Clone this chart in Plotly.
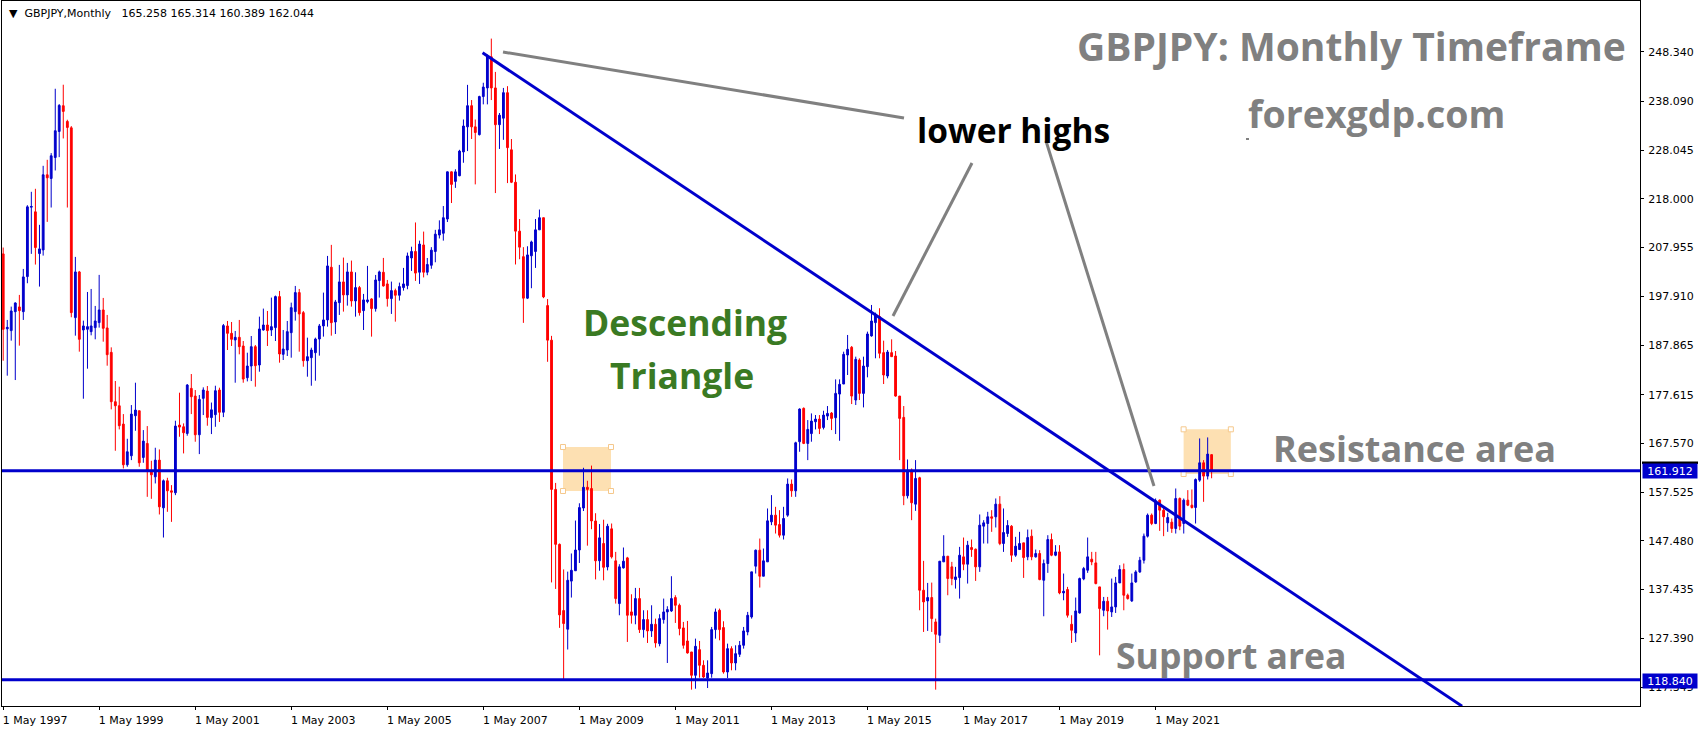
import pandas as pd
import plotly.graph_objects as go

# ---------------- data (GBPJPY monthly candles) ----------------
months = pd.date_range("1997-05-01", periods=303, freq="MS")

opens = [206.65,191.2,190.83,194.74,195.71,194.74,201.97,216.28,215.32,206.72,207.47,222.96,222.2,226.53,231.9,237.2,233.96,232.65,193.51,202.93,
190.96,191.1,190.62,191.45,192.48,195.09,191.38,186.35,176.17,175.34,171.56,163.17,165.03,173.28,174.31,164.68,167.57,162.07,160.69,164.13,
154.29,159.87,157.8,157.39,171.36,171.01,169.63,178.92,177.34,169.36,176.86,178.37,172.9,173.5,178.58,174.0,191.79,190.27,188.9,189.45,
187.66,181.12,183.53,187.52,183.74,190.96,191.99,190.96,191.45,197.84,185.94,186.83,190.41,194.75,198.67,194.54,184.63,185.25,186.28,189.1,
191.79,193.03,203.9,192.61,196.6,200.87,198.19,202.93,196.95,199.7,194.95,196.81,197.36,195.37,201.15,202.86,200.46,197.43,199.08,198.12,
199.7,200.11,205.81,207.15,202.87,208.49,202.87,204.3,207.15,210.54,210.9,213.84,223.57,221.6,222.76,227.67,232.84,237.21,232.84,231.24,
239.09,240.87,247.29,240.87,233.29,234.63,239.89,228.11,221.42,211.34,206.08,197.52,206.26,207.15,211.61,214.11,195.99,188.86,158.09,146.76,
133.11,129.27,139.18,141.32,145.6,154.25,158.53,158.27,151.58,143.37,146.94,142.1,149.96,143.36,134.55,141.91,143.97,132.83,132.14,135.58,
129.18,131.25,128.91,130.28,126.29,131.25,132.83,133.03,135.79,134.2,129.53,126.84,124.57,119.76,125.05,121.82,119.21,120.1,129.18,133.17,
129.6,120.44,125.26,122.3,124.09,125.95,128.7,131.8,142.26,145.56,140.19,143.15,151.4,152.78,150.85,148.65,152.78,159.18,157.8,167.92,
174.8,167.57,169.6,172.04,172.59,170.87,173.21,173.83,172.87,177.75,179.82,185.8,187.39,176.52,184.77,177.89,183.4,189.73,192.48,193.72,
186.29,181.47,186.29,185.6,177.34,172.94,156.77,162.07,155.05,160.49,137.3,135.1,135.79,130.77,128.01,143.15,144.32,142.12,139.5,139.91,
144.18,142.67,146.11,145.76,142.12,150.51,151.06,152.44,152.44,155.05,146.93,148.99,150.51,144.52,145.69,147.07,144.18,148.45,144.18,144.87,
139.36,142.81,147.76,144.52,145.21,136.75,137.44,130.28,128.49,132.62,139.64,141.43,143.7,142.94,137.99,133.17,135.03,132.83,133.86,138.81,
141.57,136.27,135.1,139.02,141.08,143.49,148.45,152.78,151.06,155.88,153.81,151.2,151.33,150.03,156.22,151.06,155.88,154.84,154.36,160.0,
163.58,160.83,165.258]

highs = [207.96,193.03,195.78,196.67,198.19,203.55,216.69,219.45,220.07,212.64,224.81,226.05,227.43,240.7,237.54,241.53,234.31,233.0,206.03,203.14,
192.89,198.8,199.42,195.92,202.32,197.57,194.06,187.38,180.44,179.27,173.62,168.53,175.48,180.09,174.31,170.32,171.15,164.0,166.68,166.33,
160.14,160.49,158.97,172.25,178.03,171.7,179.82,181.88,178.58,177.55,179.13,179.41,176.0,179.47,179.06,192.2,192.82,192.61,190.76,193.03,
188.69,186.28,189.72,187.87,193.71,195.37,194.88,197.64,198.05,199.01,190.96,192.82,196.6,200.04,199.42,194.88,189.38,187.31,189.38,192.2,
198.67,206.23,208.51,197.16,204.38,205.89,204.79,205.27,202.86,200.04,198.4,204.17,197.5,202.31,203.21,205.82,201.28,200.94,199.49,200.73,
203.76,206.92,208.13,213.13,209.38,211.25,205.81,208.04,211.61,213.57,216.52,223.65,223.65,224.1,228.11,234.36,241.5,238.37,234.36,239.26,
241.94,247.74,251.04,244.17,235.7,240.87,241.23,230.34,223.03,213.84,208.04,208.22,209.38,213.84,215.8,214.11,197.34,189.75,159.43,146.94,
141.59,141.14,144.88,151.67,155.23,162.55,159.87,163.0,153.18,150.95,151.84,151.0,151.06,145.21,142.67,146.11,144.18,136.47,137.78,137.78,
133.17,133.17,134.2,131.45,132.35,135.58,134.0,140.19,136.27,134.55,130.77,130.97,124.57,127.32,126.84,122.85,122.85,129.73,133.52,133.52,
130.9,126.29,125.74,125.95,126.84,129.73,132.83,141.09,145.69,147.96,145.9,154.16,156.91,154.5,153.81,154.5,160.35,160.14,167.92,174.8,
175.0,172.39,173.76,173.42,173.42,174.31,175.28,174.04,180.78,180.78,186.49,189.93,187.66,185.46,185.12,185.46,190.62,196.12,194.54,195.44,
188.76,186.84,189.04,186.63,177.34,175.28,164.27,162.41,164.13,160.69,143.36,138.81,138.88,131.45,143.29,148.65,144.32,143.15,142.12,146.24,
148.17,147.48,147.76,145.9,152.92,151.75,153.47,153.81,156.22,156.7,154.16,151.75,150.72,148.31,149.34,147.07,149.82,149.82,145.69,145.56,
143.63,148.65,148.99,146.59,146.59,140.74,137.99,132.14,135.79,139.91,142.11,148.17,145.21,145.21,137.99,135.92,135.92,139.71,140.05,142.46,
142.81,136.61,140.74,141.43,144.18,148.99,153.12,153.12,156.22,156.01,154.5,153.26,152.09,158.28,156.43,156.22,157.94,158.08,160.35,168.6,
164.13,168.81,165.314]

lows = [184.63,181.54,188.76,180.64,187.73,193.03,200.6,206.65,204.45,199.91,206.3,213.25,216.21,223.85,226.6,230.45,216.21,193.58,189.79,186.49,
176.79,182.98,189.86,189.04,191.45,188.55,183.6,174.59,166.06,170.46,162.41,162.76,164.13,170.18,162.76,163.58,156.56,156.15,159.32,152.92,
148.17,153.47,151.4,156.91,168.95,165.51,169.16,173.62,167.92,165.37,173.42,171.22,169.5,171.0,172.0,173.0,186.83,187.66,180.09,185.94,
180.09,180.36,180.43,179.27,182.36,190.83,187.66,189.72,188.69,184.22,184.77,185.6,185.25,192.89,186.49,183.39,181.33,179.47,180.5,185.67,
189.59,191.65,189.79,190.13,194.06,194.75,195.98,195.78,193.71,193.92,190.96,196.47,189.59,194.75,197.64,199.91,195.78,194.27,192.68,197.02,
199.08,199.36,203.14,201.08,200.46,201.8,202.25,203.58,204.92,209.83,209.38,213.22,217.14,220.26,222.67,225.44,227.85,230.34,220.98,231.06,
237.48,237.48,238.37,219.19,228.29,230.17,221.25,221.25,204.47,205.55,192.43,197.34,199.57,203.76,211.61,197.52,184.4,138.91,137.57,129.54,
118.84,125.08,135.79,141.32,142.92,153.63,146.49,149.88,139.53,141.32,139.35,141.4,143.84,134.55,132.14,141.77,126.64,130.42,130.28,128.49,
127.53,126.43,127.67,125.47,125.74,130.42,122.3,132.83,130.56,128.01,125.26,124.23,116.8,117.0,119.27,119.21,117.14,119.27,127.32,126.98,
120.1,119.21,120.79,120.79,123.54,125.26,128.01,131.45,140.74,137.85,140.19,143.15,150.72,148.99,148.17,147.76,152.44,156.56,156.56,165.85,
167.43,164.13,167.92,170.46,169.5,170.46,172.39,170.32,169.5,168.12,179.82,181.68,175.69,175.49,176.52,175.0,181.2,189.59,185.12,185.12,
179.82,180.99,185.46,177.2,164.13,154.84,156.22,151.75,153.67,133.17,128.7,128.91,128.7,116.8,126.43,143.15,136.27,138.33,137.64,135.58,
141.43,138.68,144.18,139.22,141.09,146.93,146.93,149.34,150.24,146.59,145.21,148.31,143.15,144.18,145.69,139.84,143.49,143.49,144.04,139.36,
131.93,140.88,144.32,144.32,136.47,135.23,131.66,126.43,126.64,132.48,139.36,140.88,142.46,138.53,123.88,131.93,129.18,131.79,132.62,138.81,
133.17,135.37,134.89,138.81,140.88,142.81,148.17,150.72,150.92,149.54,148.45,149.34,149.13,148.99,149.68,148.99,154.64,154.15,151.06,159.66,
155.53,160.14,160.389]

closes = [191.1,191.5,194.88,196.53,194.95,201.9,216.35,216.42,207.96,207.68,222.96,222.34,226.88,232.04,237.26,236.03,232.72,194.54,202.93,189.04,
191.79,191.65,191.79,192.82,195.09,191.31,185.87,176.17,175.34,171.22,163.17,165.85,173.62,174.45,163.58,168.05,162.07,161.1,164.13,154.5,
159.87,157.8,157.52,171.15,170.94,169.77,179.61,177.2,169.36,176.65,178.58,172.94,174.5,178.44,174.0,191.86,190.27,189.04,189.45,187.52,
180.85,183.53,187.52,183.6,191.17,191.99,190.83,191.65,197.84,186.01,187.04,190.62,195.57,198.67,194.27,184.63,185.46,186.83,189.1,191.79,
193.03,204.17,192.47,196.74,200.87,198.19,202.93,196.95,199.7,194.54,197.16,197.16,195.37,201.28,202.93,200.04,197.43,199.08,198.12,199.91,
200.46,206.23,207.15,202.69,208.67,202.87,204.47,207.42,210.72,211.61,214.11,223.57,220.98,223.57,227.85,233.02,237.21,232.84,231.68,239.09,
241.05,247.29,240.87,233.29,235.25,239.89,228.56,221.42,211.34,208.04,197.52,206.44,209.11,211.61,214.11,197.78,188.86,158.09,146.76,132.22,
130.43,139.35,141.41,145.6,154.34,158.53,158.09,151.58,143.37,148.1,142.03,150.5,144.18,135.58,142.12,143.29,132.14,132.14,135.58,129.18,
131.25,128.91,130.28,126.43,131.45,132.83,133.31,135.58,134.2,129.39,125.95,124.37,119.76,125.74,121.82,119.41,120.24,129.18,132.83,129.18,
120.44,125.26,122.3,124.23,125.95,128.91,132.14,141.09,145.56,140.19,143.36,151.61,152.78,150.72,148.65,152.09,159.18,157.8,167.71,174.66,
167.57,170.46,172.18,172.59,170.67,173.42,173.76,172.73,177.89,179.75,185.94,186.97,177.34,184.91,177.89,183.53,190.14,192.82,194.2,186.15,
181.68,186.42,185.46,177.34,172.73,156.77,162.07,155.33,160.35,137.3,134.89,135.79,131.45,128.22,143.29,144.32,139.71,139.71,140.05,144.52,
142.67,146.59,145.69,142.12,150.72,151.2,152.44,152.16,155.05,146.93,149.2,150.65,144.52,146.38,146.93,144.04,148.17,144.18,144.87,139.5,
142.81,147.76,144.52,145.21,136.75,137.09,132.14,129.04,133.03,139.71,141.77,144.18,143.15,138.67,133.52,135.03,133.03,133.86,138.81,141.57,
136.27,135.58,138.81,141.08,143.49,148.45,152.78,151.06,155.74,153.81,152.44,152.3,150.03,156.22,150.51,155.88,154.84,154.36,160.14,163.58,
160.83,165.37,162.044]

resistance_level = 161.912
support_level = 118.840

ytick_vals = [248.340, 238.090, 228.045, 218.000, 207.955, 197.910, 187.865,
              177.615, 167.570, 157.525, 147.480, 137.435, 127.390, 117.345]
ytick_text = ["%.3f" % v for v in ytick_vals]

xtick_dates = ["1997-05-01", "1999-05-01", "2001-05-01", "2003-05-01", "2005-05-01",
               "2007-05-01", "2009-05-01", "2011-05-01", "2013-05-01", "2015-05-01",
               "2017-05-01", "2019-05-01", "2021-05-01"]
xtick_text = ["1 May " + d[:4] for d in xtick_dates]

# trendline anchors (month index from May 1997, price)
trend_start = (119.8, 248.1)
trend_end = (364.6, 113.4)
# highlighted zones (month index range, price range)
zones = [((139.9, 151.9), (157.76, 166.83)), ((295.0, 306.8), (161.27, 170.48))]

# ---------------- layout geometry ----------------
W, H = 1704, 730
L, R, T, B = 2, 1640, 1, 706          # plot area in pixels
base = pd.Timestamp("1997-05-01")
DAYS_PER_MONTH = 30.4375
PX_PER_DAY = 0.131463
x0_date = base - pd.Timedelta(days=(3.2 - L) / PX_PER_DAY)
x1_date = base + pd.Timedelta(days=(R - 3.2) / PX_PER_DAY)
Y_PX = 4.85
y_top = 187.865 + (345 - T) / Y_PX
y_bot = 187.865 - (B - 345) / Y_PX


def mdate(k):
    return (base + pd.Timedelta(days=k * DAYS_PER_MONTH)).strftime("%Y-%m-%d %H:%M")


def px(x):
    return (x - L) / (R - L)


def py(y):
    return (B - y) / (B - T)


BLUE = "#0000cc"
RED = "#ff0000"
GRAY = "#808080"
ORANGE = "rgb(253,224,178)"

fig = go.Figure()

fig.add_trace(go.Candlestick(
    x=months, open=opens, high=highs, low=lows, close=closes,
    increasing=dict(line=dict(color=BLUE, width=1), fillcolor=BLUE),
    decreasing=dict(line=dict(color=RED, width=1), fillcolor=RED),
    whiskerwidth=0, hoverinfo="skip", showlegend=False,
))

shapes = []
# orange zones
for (ka, kb), (pa, pb) in zones:
    shapes.append(dict(type="rect", xref="x", yref="y", x0=mdate(ka), x1=mdate(kb),
                       y0=pa, y1=pb, fillcolor=ORANGE, line=dict(width=0), layer="below"))
# horizontal levels
for lvl in (resistance_level, support_level):
    shapes.append(dict(type="line", xref="paper", yref="y", x0=0, x1=1, y0=lvl, y1=lvl,
                       line=dict(color=BLUE, width=3), layer="above"))
# descending trendline
shapes.append(dict(type="line", xref="x", yref="y",
                   x0=mdate(trend_start[0]), y0=trend_start[1],
                   x1=mdate(trend_end[0]), y1=trend_end[1],
                   line=dict(color=BLUE, width=3), layer="above"))
# gray pointer lines from "lower highs"
for (xa, ya, xb, yb) in [(503, 52, 904, 118), (972, 163, 893, 316), (1046, 141, 1154, 486)]:
    shapes.append(dict(type="line", xref="paper", yref="paper", x0=px(xa), y0=py(ya),
                       x1=px(xb), y1=py(yb), line=dict(color=GRAY, width=3), layer="above"))
# small gray mark near the site name
shapes.append(dict(type="line", xref="paper", yref="paper", x0=px(1246), y0=py(139),
                   x1=px(1249), y1=py(139), line=dict(color=GRAY, width=2)))
# black marker above price label
shapes.append(dict(type="rect", xref="paper", yref="paper", x0=px(1642), x1=px(1698),
                   y0=py(464), y1=py(461.5), fillcolor="black", line=dict(width=0)))
fig.update_layout(shapes=shapes)

# zone corner handles
hx, hy = [], []
for (ka, kb), (pa, pb) in zones:
    for k in (ka, kb):
        for p in (pa, pb):
            hx.append(mdate(k))
            hy.append(p)
fig.add_trace(go.Scatter(x=hx, y=hy, mode="markers", hoverinfo="skip", showlegend=False,
                         marker=dict(symbol="square", size=5, color="white",
                                     line=dict(color="rgb(245,200,140)", width=1))))

ann = []


def text(t, x, y, size, color, xanchor="center", family="Open Sans", weight="bold"):
    ann.append(dict(text=t, xref="paper", yref="paper", x=px(x), y=py(y), xanchor=xanchor,
                    yanchor="middle", showarrow=False,
                    font=dict(family=family, size=size, color=color, weight=weight)))


text("GBPJPY: Monthly Timeframe", 1351, 46, 39, GRAY)
text("forexgdp.com", 1376, 113, 37.5, GRAY)
text("lower highs", 1013, 130, 33.5, "black")
text("Descending", 685, 322, 35.5, "#3a7a23")
text("Triangle", 682, 375, 35.5, "#3a7a23")
text("Resistance area", 1414, 448, 36, GRAY)
text("Support area", 1231, 655, 35.5, GRAY)
text("\u25bc\u00a0\u00a0GBPJPY,Monthly\u00a0\u00a0\u00a0165.258 165.314 160.389 162.044", 6.5, 13, 11,
     "black", xanchor="left", family="DejaVu Sans", weight="normal")

for lvl, yc in ((resistance_level, 470.5), (support_level, 680.5)):
    ann.append(dict(text="%.3f" % lvl, xref="paper", yref="paper", x=px(1642), y=py(yc),
                    xanchor="left", yanchor="middle", showarrow=False, bgcolor=BLUE,
                    width=52, height=12, borderpad=1, align="center",
                    font=dict(family="DejaVu Sans", size=11, color="white")))
fig.update_layout(annotations=ann)

fig.update_layout(
    width=W, height=H,
    margin=dict(l=L, r=W - R, t=T, b=H - B, pad=0),
    paper_bgcolor="white", plot_bgcolor="white",
    showlegend=False,
    xaxis=dict(type="date", range=[x0_date, x1_date], rangeslider=dict(visible=False),
               showgrid=False, zeroline=False, showline=True, mirror=True,
               linecolor="black", linewidth=1, ticks="outside", ticklen=3,
               tickcolor="black", tickvals=xtick_dates, ticktext=xtick_text,
               ticklabelshift=32, ticklabelstandoff=1,
               tickfont=dict(family="DejaVu Sans", size=11, color="black")),
    yaxis=dict(side="right", range=[y_bot, y_top], showgrid=False, zeroline=False,
               showline=True, mirror=True, linecolor="black", linewidth=1,
               ticks="outside", ticklen=3, tickcolor="black",
               tickvals=ytick_vals, ticktext=ytick_text, ticklabelstandoff=2,
               tickfont=dict(family="DejaVu Sans", size=11, color="black")),
)

fig.write_html("out.html")
